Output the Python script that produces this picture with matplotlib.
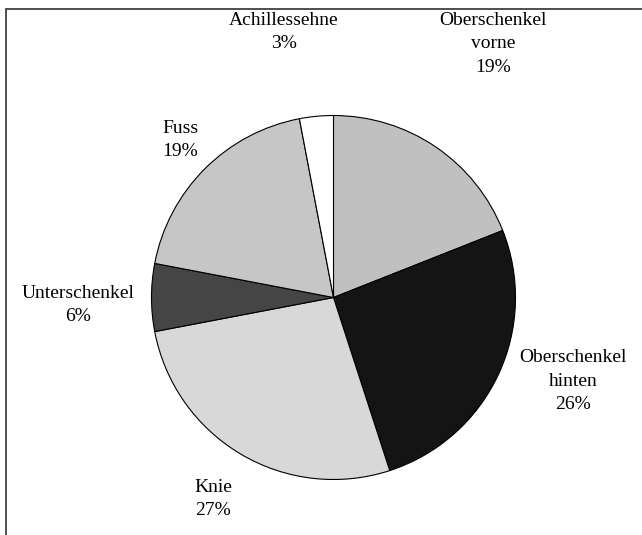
import matplotlib
matplotlib.use("Agg")
import matplotlib.pyplot as plt
from matplotlib.patches import Rectangle

categories = ["Oberschenkel\nvorne", "Oberschenkel\nhinten", "Knie", "Unterschenkel", "Fuss", "Achillessehne"]
values = [19, 26, 27, 6, 19, 3]
colors = ["#c0c0c0", "#141414", "#d8d8d8", "#454545", "#c6c6c6", "#ffffff"]

# label positions (pixel centers, top-left origin)
label_pos = [(493, 44), (573, 381), (213, 499), (78, 305), (180, 140), (284, 32)]

W, H = 642, 535
fig = plt.figure(figsize=(W / 100, H / 100), dpi=100)
fig.patch.set_facecolor("white")

cx, cy, r = 333.5, 297.5, 182
ax = fig.add_axes([(cx - r) / W, 1 - (cy + r) / H, 2 * r / W, 2 * r / H])
wedges, _ = ax.pie(values, colors=colors, startangle=90, counterclock=False,
                   wedgeprops=dict(edgecolor="black", linewidth=0.8))
ax.set_xlim(-1, 1)
ax.set_ylim(-1, 1)
ax.set_aspect("equal")
ax.axis("off")

for cat, val, (px, py) in zip(categories, values, label_pos):
    fig.text(px / W, 1 - py / H, f"{cat}\n{val}%", ha="center", va="center",
             fontsize=14, family="Liberation Serif", linespacing=1.5)

fig.patches.append(Rectangle((6 / W, -0.1), 1.2, 1 - 9 / H + 0.1, transform=fig.transFigure,
                             fill=False, edgecolor="#404040", linewidth=1.3))

fig.savefig("out.png", dpi=100)
